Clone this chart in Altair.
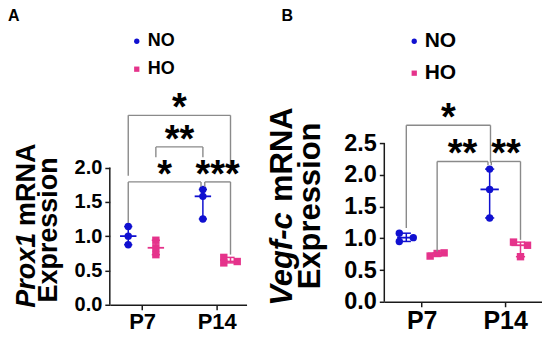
import altair as alt
import pandas as pd

days = ["P7", "P14"]
groups = ["NO", "HO"]
group_colors = ["#1010d0", "#e5338b"]
group_shapes = ["circle", "square"]

# ---- Panel A: Prox1 mRNA expression (3 replicates per group) ----
prox1_no_p7 = [1.14, 1.00, 0.875]
prox1_ho_p7 = [0.94, 0.83, 0.73]
prox1_no_p14 = [1.68, 1.58, 1.25]
prox1_ho_p14 = [0.69, 0.61, 0.63]
prox1_ticks = [0.0, 0.5, 1.0, 1.5, 2.0]

# ---- Panel B: Vegf-c mRNA expression ----
vegfc_no_p7 = [1.08, 0.95, 1.01]
vegfc_ho_p7 = [0.72, 0.76, 0.77]
vegfc_no_p14 = [2.09, 1.77, 1.32]
vegfc_ho_p14 = [0.94, 0.89, 0.71]
vegfc_ticks = [0.0, 0.5, 1.0, 1.5, 2.0, 2.5]

# significance annotations: label, (group, day) left end, (group, day) right end
prox1_sig_labels = ["*", "**", "*", "***"]
prox1_sig_left = [("NO", "P7"), ("HO", "P7"), ("NO", "P7"), ("NO", "P14")]
prox1_sig_right = [("HO", "P14"), ("NO", "P14"), ("NO", "P14"), ("HO", "P14")]
prox1_sig_level = [2.76, 2.30, 1.79, 1.79]

vegfc_sig_labels = ["*", "**", "**"]
vegfc_sig_left = [("NO", "P7"), ("HO", "P7"), ("NO", "P14")]
vegfc_sig_right = [("NO", "P14"), ("NO", "P14"), ("HO", "P14")]
vegfc_sig_level = [2.78, 2.21, 2.21]

# ---- layout helpers (styling, not data) ----
GROUP_OFFSET = {"NO": -0.185, "HO": 0.185}
prox1_slots = {("HO", "P14"): [-1, -1, 1]}
vegfc_slots = {("NO", "P7"): [-1, -1, 1], ("HO", "P7"): [-1, 0, 1], ("HO", "P14"): [-1, 1, 0]}
prox1_nudge_left = [0.0, 0.0, 0.0, 0.025]
prox1_nudge_right = [0.0, 0.0, -0.025, 0.0]
prox1_drop_left = [1.88, 2.15, 1.19, 1.72]
prox1_drop_right = [1.93, 2.15, 1.72, 0.73]
vegfc_nudge_left = [0.0, 0.0, 0.02]
vegfc_nudge_right = [0.01, -0.02, 0.0]
vegfc_drop_left = [1.16, 0.79, 2.15]
vegfc_drop_right = [2.19, 2.15, 0.975]

FONT = "Liberation Sans"
AXIS_COLOR = "#1a1a1a"
BRACKET_COLOR = "#8a8a8a"


def center(g, d):
    return days.index(d) + GROUP_OFFSET[g]


def build_points(series, slots, step):
    rows = []
    for (g, d), vals in series.items():
        sl = slots.get((g, d), [0] * len(vals))
        for v, s in zip(vals, sl):
            rows.append({"group": g, "day": d, "value": v,
                         "center": center(g, d), "pos": center(g, d) + s * step})
    return pd.DataFrame(rows)


def build_brackets(labels, left, right, level, nl, nr, dl, dr):
    segs, stars = [], []
    for i, lab in enumerate(labels):
        x1 = center(*left[i]) + nl[i]
        x2 = center(*right[i]) + nr[i]
        y = level[i]
        segs.append({"x": x1, "x2": x2, "y": y, "y2": y})
        segs.append({"x": x1, "x2": x1, "y": y, "y2": dl[i]})
        segs.append({"x": x2, "x2": x2, "y": y, "y2": dr[i]})
        stars.append({"x": (x1 + x2) / 2, "y": y, "t": lab})
    return pd.DataFrame(segs), pd.DataFrame(stars)


def panel(letter, title_it, title_rest, series, slots, step, ticks, sig,
          xdom, ymax, width, height, tick_fs, xlab_fs, leg, title_fs, title_pos, label_x):
    df = build_points(series, slots, step)
    segs, stars = sig
    label_expr = " : ".join(f"datum.value == {i} ? '{d}'" for i, d in enumerate(days[:-1])) + f" : '{days[-1]}'"
    xscale = alt.Scale(domain=xdom, nice=False, zero=False)
    yscale = alt.Scale(domain=[0, ymax], nice=False, zero=True)
    xaxis = alt.Axis(values=list(range(len(days))), labelExpr=label_expr, title=None, grid=False,
                     tickSize=5, tickWidth=1.5, tickColor=AXIS_COLOR, domainColor=AXIS_COLOR,
                     domainWidth=1.5, labelFont=FONT, labelFontWeight="bold", labelFontSize=xlab_fs,
                     labelColor="black", labelPadding=2, labelAngle=0)
    yaxis = alt.Axis(values=ticks, format=".1f", title=None, grid=False, domain=False,
                     tickSize=5, tickWidth=1.5, tickColor=AXIS_COLOR, labelFont=FONT,
                     labelFontWeight="bold", labelFontSize=tick_fs, labelColor="black", labelPadding=3)

    def X(f):
        return alt.X(f, scale=xscale, axis=xaxis)

    def Y(f):
        return alt.Y(f, scale=yscale, axis=yaxis)

    cscale = alt.Scale(domain=groups, range=group_colors)
    sscale = alt.Scale(domain=groups, range=group_shapes)
    legend = alt.Legend(title=None, orient="none", legendX=leg["x"], legendY=leg["y"],
                        labelFont=FONT, labelFontWeight="bold", labelFontSize=leg["fs"],
                        labelColor="black", symbolSize=28, rowPadding=leg["row"],
                        labelOffset=leg["off"], padding=0)

    axis_line = alt.Chart(pd.DataFrame({"x": [xdom[0]], "y": [0.0], "y2": [ticks[-1]]})).mark_rule(
        color=AXIS_COLOR, strokeWidth=1.5).encode(x=X("x:Q"), y=Y("y:Q"), y2="y2:Q")

    summ = alt.Chart(df).transform_aggregate(
        lo="min(value)", hi="max(value)", med="median(value)", groupby=["group", "day", "center"]
    ).transform_calculate(
        cl="datum.center - 0.055", cr="datum.center + 0.055",
        ml="datum.center - 0.11", mr="datum.center + 0.11")
    col = alt.condition(alt.datum.group == groups[0], alt.value(group_colors[0]), alt.value(group_colors[1]))
    vbar = summ.mark_rule(strokeWidth=1.5).encode(x=X("center:Q"), y=Y("lo:Q"), y2="hi:Q", color=col)
    cap_lo = summ.mark_rule(strokeWidth=1.5).encode(x=X("cl:Q"), x2="cr:Q", y=Y("lo:Q"), color=col)
    cap_hi = summ.mark_rule(strokeWidth=1.5).encode(x=X("cl:Q"), x2="cr:Q", y=Y("hi:Q"), color=col)
    med = summ.mark_rule(strokeWidth=1.8).encode(x=X("ml:Q"), x2="mr:Q", y=Y("med:Q"), color=col)

    pts = alt.Chart(df).mark_point(filled=True, size=55, opacity=1).encode(
        x=X("pos:Q"), y=Y("value:Q"),
        color=alt.Color("group:N", scale=cscale, legend=legend),
        shape=alt.Shape("group:N", scale=sscale, legend=legend))

    br = alt.Chart(segs).mark_rule(color=BRACKET_COLOR, strokeWidth=1.4).encode(
        x=X("x:Q"), x2="x2:Q", y=Y("y:Q"), y2="y2:Q")
    st = alt.Chart(stars).mark_text(font=FONT, fontSize=38, fontWeight="bold", color="black",
                                    baseline="alphabetic", dy=5).encode(
        x=X("x:Q"), y=Y("y:Q"), text="t:N")

    tp = title_pos
    t1 = alt.Chart(pd.DataFrame({"t": [title_it]})).mark_text(
        font=FONT, fontSize=title_fs, fontWeight="bold", fontStyle="italic", angle=270,
        align="left", baseline="alphabetic", color="black").encode(
        x=alt.value(tp["x1"]), y=alt.value(tp["it_y"]), text="t:N")
    t2 = alt.Chart(pd.DataFrame({"t": [title_rest[0]]})).mark_text(
        font=FONT, fontSize=title_fs, fontWeight="bold", angle=270,
        align="left", baseline="alphabetic", color="black").encode(
        x=alt.value(tp["x1"]), y=alt.value(tp["rest_y"]), text="t:N")
    t3 = alt.Chart(pd.DataFrame({"t": [title_rest[1]]})).mark_text(
        font=FONT, fontSize=title_fs, fontWeight="bold", angle=270,
        align="center", baseline="alphabetic", color="black").encode(
        x=alt.value(tp["x2"]), y=alt.value(tp["exp_y"]), text="t:N")
    lab = alt.Chart(pd.DataFrame({"t": [letter]})).mark_text(
        font=FONT, fontSize=16, fontWeight="bold", align="left", baseline="top", color="black").encode(
        x=alt.value(label_x), y=alt.value(-22), text="t:N")

    return alt.layer(pts, axis_line, vbar, cap_lo, cap_hi, med, br, st, t1, t2, t3, lab).properties(
        width=width, height=height)


prox1_series = {("NO", "P7"): prox1_no_p7, ("HO", "P7"): prox1_ho_p7,
                ("NO", "P14"): prox1_no_p14, ("HO", "P14"): prox1_ho_p14}
vegfc_series = {("NO", "P7"): vegfc_no_p7, ("HO", "P7"): vegfc_ho_p7,
                ("NO", "P14"): vegfc_no_p14, ("HO", "P14"): vegfc_ho_p14}

chart_a = panel("A", "Prox1", ["mRNA", "Expression"], prox1_series, prox1_slots, 0.09, prox1_ticks,
                build_brackets(prox1_sig_labels, prox1_sig_left, prox1_sig_right, prox1_sig_level,
                               prox1_nudge_left, prox1_nudge_right, prox1_drop_left, prox1_drop_right),
                [-0.432, 1.40], 4.0, 137, 275, 20, 22,
                {"x": 18, "y": 2.0, "fs": 18, "row": 10, "off": 2}, 27,
                {"x1": -75, "x2": -53, "it_y": 278, "rest_y": 196, "exp_y": 200}, -102)

chart_b = panel("B", "Vegf-c", ["mRNA", "Expression"], vegfc_series, vegfc_slots, 0.084, vegfc_ticks,
                build_brackets(vegfc_sig_labels, vegfc_sig_left, vegfc_sig_right, vegfc_sig_level,
                               vegfc_nudge_left, vegfc_nudge_right, vegfc_drop_left, vegfc_drop_right),
                [-0.449, 1.443], 4.277, 158, 272, 23.5, 25,
                {"x": 19.5, "y": 0.5, "fs": 21, "row": 10, "off": 0}, 31,
                {"x1": -92.7, "x2": -64.3, "it_y": 276, "rest_y": 172, "exp_y": 176}, -103)

chart = alt.hconcat(chart_a, chart_b, spacing=20).resolve_scale(
    x="independent", y="independent", color="independent", shape="independent"
).resolve_legend(color="independent", shape="independent").configure_view(
    stroke=None).properties(padding=0, background="white")

chart.save("out.html", embed_options={"renderer": "svg", "actions": False})
